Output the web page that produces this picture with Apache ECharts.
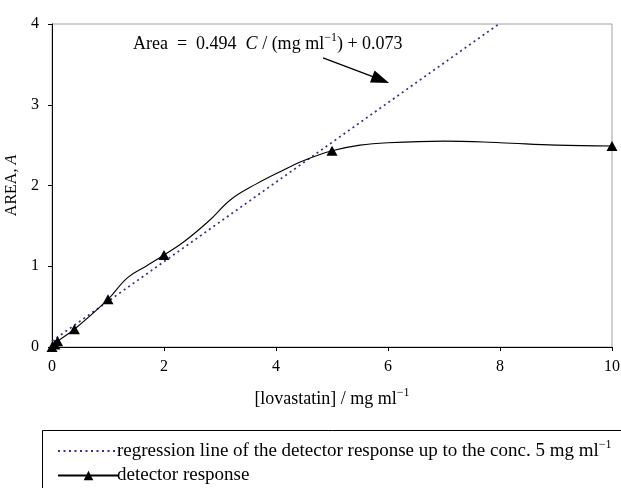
<!DOCTYPE html>
<html>
<head>
<meta charset="utf-8">
<script src="https://cdn.jsdelivr.net/npm/echarts@6/dist/echarts.min.js"></script>
<style>
html,body{margin:0;padding:0;background:#fff;}
#chart{width:621px;height:488px;}
</style>
</head>
<body>
<div id="chart"></div>
<script>
const detX = [0, 0.05, 0.1, 0.4, 1, 1.35, 1.7, 2, 2.35, 2.8, 3.2, 3.65, 4.1, 4.5, 5, 5.5, 6, 7, 8, 9, 10];
const detY = [0, 0.03, 0.07, 0.22, 0.59, 0.86, 1.01, 1.14, 1.30, 1.56, 1.83, 2.02, 2.18, 2.31, 2.43, 2.50, 2.53, 2.55, 2.53, 2.50, 2.49];
const detMarked = [1, 1, 1, 1, 1, 0, 0, 1, 0, 0, 0, 0, 0, 0, 1, 0, 0, 0, 0, 0, 1];
// Regression line endpoints
const regX = [0, 7.98];
const regY = [0.073, 4.0];
// Arrow annotation endpoints (data coordinates)
const arrowFrom = [4.84, 3.58];
const arrowTo = [5.87, 3.31];
const xTicks = [0, 2, 4, 6, 8, 10];
const yTicks = [0, 1, 2, 3, 4];

const FONT = 'Liberation Serif';
const chart = echarts.init(document.getElementById('chart'));

const detData = detX.map((x, i) => detMarked[i]
  ? { value: [x, detY[i]] }
  : { value: [x, detY[i]], symbol: 'none' });
const regData = regX.map((x, i) => [x, regY[i]]);

const supStyle = { fontSize: 12, fontFamily: FONT, color: '#000', fill: '#000', padding: [0, 0, 12, 0] };
const legendText = { color: '#000', fontFamily: FONT, fontSize: 19, padding: [0, 0, 0, -7],
  rich: { sup: supStyle } };

const option = {
  animation: false,
  backgroundColor: '#fff',
  grid: { left: 52, right: 9, top: 24, bottom: 141, containLabel: false, outerBoundsMode: 'none',
    show: true, borderColor: '#a0a0a0', borderWidth: 1 },
  xAxis: {
    type: 'value', min: xTicks[0], max: xTicks[xTicks.length - 1], interval: 2,
    splitLine: { show: false },
    axisLine: { lineStyle: { color: '#000', width: 1 } },
    axisTick: { show: true, length: 4, lineStyle: { color: '#000' } },
    axisLabel: { color: '#000', fontFamily: FONT, fontSize: 16, margin: 12 },
    name: '[lovastatin] / mg ml{sup|−1}',
    nameLocation: 'middle', nameGap: 40,
    nameTextStyle: { color: '#000', fontFamily: FONT, fontSize: 18, rich: { sup: supStyle } }
  },
  yAxis: {
    type: 'value', min: yTicks[0], max: yTicks[yTicks.length - 1], interval: 1,
    splitLine: { show: false },
    axisLine: { show: true, lineStyle: { color: '#000', width: 1 } },
    axisTick: { show: true, length: 4, lineStyle: { color: '#000' } },
    axisLabel: { color: '#000', fontFamily: FONT, fontSize: 16, margin: 13 },
    name: 'AREA, {i|A}',
    nameLocation: 'middle', nameGap: 26, nameRotate: 90,
    nameTextStyle: { color: '#000', fontFamily: FONT, fontSize: 16,
      rich: { i: { fontStyle: 'italic', fontFamily: FONT, fontSize: 16, color: '#000' } } }
  },
  legend: [
    {
      left: 52, top: 434, itemWidth: 61, itemHeight: 12,
      data: [{ name: 'regression', itemStyle: { color: 'rgba(0,0,0,0)', borderWidth: 0 } }],
      formatter: function () {
        return 'regression line of the detector response up to the conc. 5 mg ml{sup|−1}';
      },
      textStyle: legendText
    },
    {
      left: 52, top: 461, itemWidth: 61, itemHeight: 12,
      data: ['detector response'],
      textStyle: legendText
    }
  ],
  graphic: [
    { type: 'rect', left: 40, top: 428, shape: { width: 600, height: 70 },
      style: { fill: 'none', stroke: '#000', lineWidth: 1 }, z: 100, silent: true },
    { type: 'text', left: 133, top: 32, z: 100,
      style: {
        text: 'Area  =  0.494  {i|C} / (mg ml{sup|−1}) + 0.073',
        fontFamily: FONT, fontSize: 18, fill: '#000',
        rich: {
          i: { fontStyle: 'italic', fontFamily: FONT, fontSize: 18, fill: '#000' },
          sup: supStyle
        }
      } }
  ],
  series: [
    {
      name: 'regression', type: 'line', data: regData,
      symbol: 'none', z: 2,
      lineStyle: { color: '#2e2e96', width: 1.7, type: [2, 3.5] },
      itemStyle: { color: '#2e2e96' },
      markLine: {
        silent: true, symbol: ['none', 'triangle'], symbolSize: [13, 18],
        label: { show: false },
        lineStyle: { color: '#000', width: 1.3, type: 'solid' },
        data: [[{ coord: arrowFrom }, { coord: arrowTo }]]
      }
    },
    {
      name: 'detector response', type: 'line', data: detData,
      smooth: 0.4, clip: false, z: 3,
      symbol: 'triangle', symbolSize: [11, 10],
      lineStyle: { color: '#000', width: 1.1 },
      itemStyle: { color: '#000' }
    }
  ]
};
chart.setOption(option);
</script>
</body>
</html>
